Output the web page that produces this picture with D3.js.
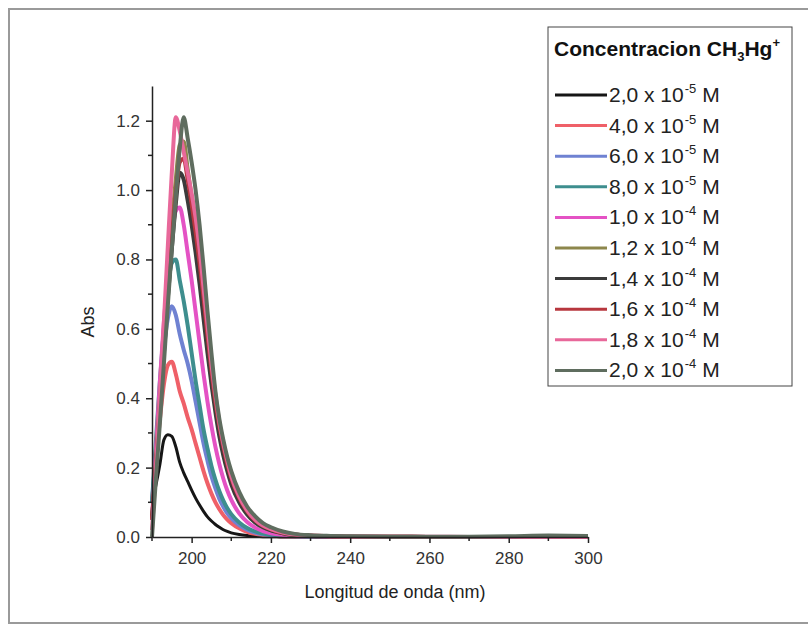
<!DOCTYPE html>
<html>
<head>
<meta charset="utf-8">
<script src="https://cdn.jsdelivr.net/npm/d3@7"></script>
<style>
  body { margin: 0; background: #fff; }
  svg { display: block; font-family: "Liberation Sans", Arial, sans-serif; }
</style>
</head>
<body>
<script>
var w = 808;
var h = 638;

// wavelength (nm)
var wavelengths = [190,191,192,193,194,195,196,197,198,199,
  200,201,202,203,204,205,206,207,208,209,210,
  212,214,216,218,220,223,226,230,235,240,250,260,270,280,290,300];

// absorbance for each CH3Hg+ concentration
var abs20e5 = [0.10,0.15,0.21,0.28,0.295,0.29,0.26,0.215,0.185,0.16,
  0.135,0.112,0.092,0.074,0.058,0.046,0.036,0.028,0.021,0.016,0.012,
  0.007,0.004,0.002,0.001,0.001,0,0,0,0,0,0,0,0,0,0,0];
var abs40e5 = [0.10,0.22,0.34,0.44,0.495,0.505,0.47,0.42,0.385,0.345,
  0.31,0.27,0.23,0.19,0.155,0.125,0.10,0.08,0.063,0.05,0.04,
  0.025,0.015,0.009,0.006,0.004,0.002,0.001,0,0,0,0,0,0,0,0,0];
var abs60e5 = [0.10,0.25,0.40,0.54,0.63,0.665,0.64,0.585,0.54,0.50,
  0.45,0.39,0.33,0.27,0.22,0.175,0.14,0.11,0.087,0.068,0.054,
  0.034,0.021,0.013,0.008,0.005,0.003,0.002,0.001,0,0,0,0,0,0,0,0];
var abs80e5 = [0.10,0.28,0.45,0.60,0.72,0.79,0.80,0.74,0.68,0.61,
  0.53,0.45,0.38,0.31,0.255,0.205,0.165,0.132,0.105,0.083,0.066,
  0.042,0.026,0.016,0.010,0.007,0.004,0.002,0.001,0.001,0,0,0,0,0,0,0];
var abs10e4 = [0.05,0.25,0.45,0.62,0.76,0.87,0.94,0.95,0.90,0.82,
  0.74,0.65,0.56,0.47,0.39,0.32,0.26,0.21,0.168,0.134,0.107,
  0.068,0.043,0.027,0.017,0.011,0.006,0.003,0.002,0.001,0.001,0,0,0,0,0,0];
var abs12e4 = [0.05,0.22,0.40,0.58,0.75,0.90,1.03,1.13,1.14,1.06,
  0.98,0.89,0.79,0.68,0.57,0.47,0.38,0.31,0.25,0.20,0.16,
  0.105,0.068,0.044,0.029,0.020,0.011,0.006,0.003,0.002,0.001,0.001,0,0,0,0,0];
var abs14e4 = [0.05,0.20,0.37,0.53,0.69,0.83,0.96,1.05,1.03,0.97,
  0.90,0.82,0.73,0.63,0.53,0.44,0.36,0.29,0.235,0.19,0.152,
  0.10,0.065,0.042,0.028,0.019,0.011,0.006,0.003,0.002,0.001,0.001,0,0,0,0,0];
var abs16e4 = [0.05,0.21,0.38,0.55,0.71,0.86,0.99,1.08,1.09,1.03,
  0.96,0.88,0.79,0.69,0.58,0.48,0.39,0.32,0.26,0.21,0.17,
  0.113,0.074,0.048,0.032,0.022,0.012,0.007,0.004,0.002,0.001,0.001,0,0,0,0,0];
var abs18e4 = [0.02,0.20,0.40,0.62,0.84,1.05,1.21,1.17,1.11,1.05,
  0.99,0.92,0.83,0.72,0.61,0.50,0.41,0.33,0.27,0.22,0.175,
  0.117,0.077,0.05,0.033,0.023,0.013,0.007,0.004,0.002,0.001,0.001,0.001,0,0,0,0];
var abs20e4 = [0.0,0.17,0.33,0.50,0.67,0.83,0.98,1.12,1.21,1.15,
  1.08,1.00,0.90,0.78,0.65,0.53,0.42,0.34,0.28,0.23,0.19,
  0.13,0.088,0.06,0.04,0.028,0.016,0.009,0.005,0.003,0.002,0.001,0.001,0.001,0.002,0.004,0.003];

var concMant = ["2,0","4,0","6,0","8,0","1,0","1,2","1,4","1,6","1,8","2,0"];
var concExp = ["-5","-5","-5","-5","-4","-4","-4","-4","-4","-4"];
var seriesValues = [abs20e5, abs40e5, abs60e5, abs80e5, abs10e4,
  abs12e4, abs14e4, abs16e4, abs18e4, abs20e4];
var colors = ["#161616","#ef6068","#6f82d2","#3e8e8e","#e452c4",
  "#8d874c","#3b3b3b","#b7373e","#e8689a","#5f6d5f"];

var xTicks = [200,220,240,260,280,300];
var xMinor = [190,210,230,250,270,290];
var yTicks = [0,0.2,0.4,0.6,0.8,1.0,1.2];
var yMinor = [0.1,0.3,0.5,0.7,0.9,1.1];

var svg = d3.select("body").append("svg")
  .attr("width", w)
  .attr("height", h);

// outer frame of the scanned figure
svg.append("rect")
  .attr("x", 9).attr("y", 9)
  .attr("width", 820).attr("height", 614)
  .attr("fill", "none")
  .attr("stroke", "#9a9a9a")
  .attr("stroke-width", 2);

var x = d3.scaleLinear().domain([190, 300]).range([152, 588]);
var y = d3.scaleLinear().domain([0, 1.3]).range([537, 86]);

var line = d3.line()
  .x(function(d) { return x(d[0]); })
  .y(function(d) { return y(d[1]); })
  .curve(d3.curveMonotoneX);

var series = seriesValues.map(function(vals, i) {
  return { color: colors[i], pts: wavelengths.map(function(l, j) { return [l, vals[j]]; }) };
});

svg.append("g").selectAll("path")
  .data(series)
  .enter()
  .append("path")
  .attr("d", function(d) { return line(d.pts); })
  .attr("fill", "none")
  .attr("stroke", function(d) { return d.color; })
  .attr("stroke-width", function(d, i) { return i == 0 ? 3 : 4; })
  .attr("stroke-linejoin", "round");

// axes
var xAxis = svg.append("g")
  .attr("transform", "translate(0,537)")
  .call(d3.axisBottom(x).tickValues(xTicks).tickSize(6).tickSizeOuter(0).tickPadding(9));
svg.append("g").selectAll("line")
  .data(xMinor)
  .enter()
  .append("line")
  .attr("x1", function(d) { return x(d); })
  .attr("x2", function(d) { return x(d); })
  .attr("y1", 537).attr("y2", 541)
  .attr("stroke", "#222").attr("stroke-width", 1.5);

var yAxis = svg.append("g")
  .attr("transform", "translate(152,0)")
  .call(d3.axisLeft(y).tickValues(yTicks).tickFormat(d3.format(".1f")).tickSize(6).tickSizeOuter(0).tickPadding(6));
svg.append("g").selectAll("line")
  .data(yMinor)
  .enter()
  .append("line")
  .attr("x1", 148).attr("x2", 152)
  .attr("y1", function(d) { return y(d); })
  .attr("y2", function(d) { return y(d); })
  .attr("stroke", "#222").attr("stroke-width", 1.5);

[xAxis, yAxis].forEach(function(a) {
  a.select(".domain").attr("stroke", "#222").attr("stroke-width", 1.5);
  a.selectAll(".tick line").attr("stroke", "#222").attr("stroke-width", 1.5);
  a.selectAll(".tick text")
    .style("font-family", "'Liberation Sans', Arial, sans-serif")
    .style("font-size", "17px")
    .attr("fill", "#333");
});

svg.append("text")
  .attr("x", 395).attr("y", 598)
  .attr("text-anchor", "middle")
  .style("font-size", "18px")
  .attr("fill", "#222")
  .text("Longitud de onda (nm)");

svg.append("text")
  .attr("transform", "translate(94,322) rotate(-90)")
  .attr("text-anchor", "middle")
  .style("font-size", "18px")
  .attr("fill", "#222")
  .text("Abs");

// legend
var legend = svg.append("g");
legend.append("rect")
  .attr("x", 548).attr("y", 27)
  .attr("width", 244).attr("height", 359)
  .attr("fill", "#fff")
  .attr("stroke", "#444")
  .attr("stroke-width", 1);

var title = legend.append("text")
  .attr("x", 554).attr("y", 56)
  .style("font-size", "21px")
  .attr("font-weight", "bold")
  .attr("fill", "#111");
title.append("tspan").text("Concentracion CH");
title.append("tspan").style("font-size", "13px").attr("dy", 5).text("3");
title.append("tspan").attr("dy", -5).text("Hg");
title.append("tspan").style("font-size", "13px").attr("dy", -9).text("+");

var rows = legend.selectAll("g.row")
  .data(concMant)
  .enter()
  .append("g")
  .attr("class", "row")
  .attr("transform", function(d, i) { return "translate(0," + (95 + i * 30.6) + ")"; });

rows.append("line")
  .attr("x1", 555).attr("x2", 607)
  .attr("y1", 0).attr("y2", 0)
  .attr("stroke", function(d, i) { return colors[i]; })
  .attr("stroke-width", 3);

var rt = rows.append("text")
  .attr("x", 609).attr("y", 7)
  .style("font-size", "21px")
  .attr("fill", "#222");
rt.append("tspan").text(function(d) { return d + " x 10"; });
rt.append("tspan").style("font-size", "13px").attr("dy", -9).attr("dx", 1).text(function(d, i) { return concExp[i]; });
rt.append("tspan").attr("dy", 9).text(" M");
</script>
</body>
</html>
